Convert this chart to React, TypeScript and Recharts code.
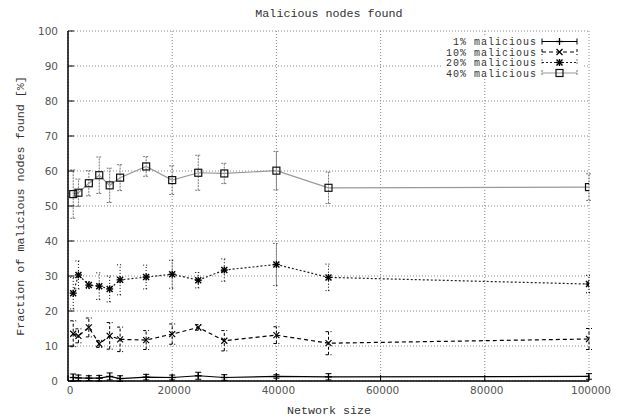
import React from 'react';
import { ComposedChart, Line, XAxis, YAxis, CartesianGrid, ErrorBar } from 'recharts';

const sizes = [1000, 2000, 4000, 6000, 8000, 10000, 15000, 20000, 25000, 30000, 40000, 50000, 100000];
const mal1 = [1.0, 0.9, 0.8, 0.8, 1.3, 0.7, 1.1, 1.0, 1.5, 1.0, 1.3, 1.2, 1.3];
const err1 = [1.0, 0.8, 0.7, 0.8, 1.0, 0.8, 0.8, 0.7, 1.0, 0.8, 0.5, 0.9, 0.8];
const mal10 = [13.5, 12.9, 15.3, 10.6, 12.9, 11.9, 11.7, 13.4, 15.3, 11.5, 13.1, 10.8, 12.0];
const err10 = [3.7, 2.0, 2.7, 1.0, 3.8, 3.5, 2.7, 2.9, 0.8, 2.9, 2.4, 3.3, 3.0];
const mal20 = [25.1, 30.3, 27.4, 27.1, 26.3, 28.9, 29.7, 30.5, 28.8, 31.7, 33.3, 29.6, 27.7];
const err20 = [4.5, 4.0, 1.0, 3.8, 3.7, 4.3, 3.4, 4.0, 2.2, 3.2, 6.0, 3.8, 2.5];
const mal40 = [53.4, 53.8, 56.5, 58.8, 55.9, 58.1, 61.3, 57.4, 59.5, 59.3, 60.1, 55.2, 55.4];
const err40 = [6.9, 3.9, 3.6, 5.2, 4.9, 3.7, 2.8, 4.1, 5.0, 2.9, 5.5, 4.5, 3.8];

const xTicks = [0, 20000, 40000, 60000, 80000, 100000];
const yTicks = [0, 10, 20, 30, 40, 50, 60, 70, 80, 90, 100];
const seriesNames = ['1% malicious', '10% malicious', '20% malicious', '40% malicious'];
const title = 'Malicious nodes found';
const xLabel = 'Network size';
const yLabel = 'Fraction of malicious nodes found [%]';

const data = sizes.map((s, i) => ({
  x: s,
  m1: mal1[i], e1: err1[i],
  m10: mal10[i], e10: err10[i],
  m20: mal20[i], e20: err20[i],
  m40: mal40[i], e40: err40[i],
}));

const MONO = '"Liberation Mono", "DejaVu Sans Mono", monospace';
const SANS = '"DejaVu Sans", sans-serif';

type MarkerKind = 'plus' | 'cross' | 'star' | 'square';

function Marker({ kind, cx, cy }: { kind: MarkerKind; cx: number; cy: number }) {
  const r = 3.5;
  if (kind === 'plus') {
    return (
      <g stroke="#000" strokeWidth={1.3}>
        <line x1={cx - r} y1={cy} x2={cx + r} y2={cy} />
        <line x1={cx} y1={cy - r} x2={cx} y2={cy + r} />
      </g>
    );
  }
  if (kind === 'cross') {
    return (
      <g stroke="#000" strokeWidth={1.2}>
        <line x1={cx - 3} y1={cy - 3} x2={cx + 3} y2={cy + 3} />
        <line x1={cx - 3} y1={cy + 3} x2={cx + 3} y2={cy - 3} />
      </g>
    );
  }
  if (kind === 'star') {
    return (
      <g stroke="#000" strokeWidth={1.4}>
        <line x1={cx - r} y1={cy} x2={cx + r} y2={cy} />
        <line x1={cx} y1={cy - r} x2={cx} y2={cy + r} />
        <line x1={cx - 3} y1={cy - 3} x2={cx + 3} y2={cy + 3} />
        <line x1={cx - 3} y1={cy + 3} x2={cx + 3} y2={cy - 3} />
      </g>
    );
  }
  return <rect x={cx - 3.5} y={cy - 3.5} width={7} height={7} fill="none" stroke="#111" strokeWidth={1.2} />;
}

const makeDot = (kind: MarkerKind) => (props: any) => {
  const { cx, cy, index } = props;
  if (cx == null || cy == null) return <g key={`d-${kind}-${index}`} />;
  return (
    <g key={`d-${kind}-${index}`}>
      <Marker kind={kind} cx={cx} cy={cy} />
    </g>
  );
};

const BottomTick = (props: any) => {
  const { x, y, payload } = props;
  return (
    <g>
      <line x1={x} y1={y} x2={x} y2={y - 6} stroke="#000" strokeWidth={1} />
      <text x={x + 2} y={y + 13} textAnchor="middle" fontFamily={SANS} fontSize={10.5} fill="#555">
        {payload.value}
      </text>
    </g>
  );
};

const TopTick = (props: any) => {
  const { x, y } = props;
  return <line x1={x} y1={y} x2={x} y2={y + 6} stroke="#000" strokeWidth={1} />;
};

const LeftTick = (props: any) => {
  const { x, y, payload } = props;
  return (
    <g>
      <line x1={x} y1={y} x2={x + 6} y2={y} stroke="#000" strokeWidth={1} />
      <text x={x - 10} y={y + 4} textAnchor="end" fontFamily={SANS} fontSize={10.5} fill="#555">
        {payload.value}
      </text>
    </g>
  );
};

const RightTick = (props: any) => {
  const { x, y } = props;
  return <line x1={x} y1={y} x2={x - 6} y2={y} stroke="#000" strokeWidth={1} />;
};

const lineStyles = [
  { key: 'm1', err: 'e1', kind: 'plus' as MarkerKind, stroke: '#000', dash: undefined as string | undefined, errStroke: '#000', errDash: undefined as string | undefined },
  { key: 'm10', err: 'e10', kind: 'cross' as MarkerKind, stroke: '#000', dash: '4 3', errStroke: '#000', errDash: '3 2' },
  { key: 'm20', err: 'e20', kind: 'star' as MarkerKind, stroke: '#222', dash: '2 2', errStroke: '#000', errDash: '1 2' },
  { key: 'm40', err: 'e40', kind: 'square' as MarkerKind, stroke: '#999', dash: undefined, errStroke: '#777', errDash: '2 1' },
];

function LegendOverlay() {
  const rows = [41.5, 52, 62.5, 73];
  const x1 = 542;
  const x2 = 577;
  const mid = (x1 + x2) / 2;
  return (
    <g>
      <rect x={443} y={36} width={140} height={43} fill="#fff" />
      {seriesNames.map((name, i) => {
        const st = lineStyles[i];
        const y = rows[i];
        return (
          <g key={name}>
            <text x={537} y={y + 3.5} textAnchor="end" fontFamily={MONO} fontSize={10} letterSpacing={1} fill="#333">
              {name}
            </text>
            <line x1={x1} y1={y} x2={x2} y2={y} stroke={st.stroke} strokeDasharray={st.dash} strokeWidth={1.2} />
            <line x1={x1} y1={y - 3} x2={x1} y2={y + 3} stroke={st.errStroke} strokeDasharray={st.errDash} />
            <line x1={x2} y1={y - 3} x2={x2} y2={y + 3} stroke={st.errStroke} strokeDasharray={st.errDash} />
            <Marker kind={st.kind} cx={mid} cy={y} />
          </g>
        );
      })}
    </g>
  );
}

export default function App() {
  return (
    <div style={{ position: 'absolute', left: 0, top: 0, width: 625, height: 419, background: '#fff' }}>
      <ComposedChart width={625} height={419} data={data} margin={{ top: 31, right: 36, bottom: 0, left: 0 }}>
        <CartesianGrid stroke="#888" strokeDasharray="1 2" />
        <XAxis
          dataKey="x"
          type="number"
          domain={[0, 100000]}
          ticks={xTicks}
          height={38}
          tickSize={0}
          tickMargin={0}
          tickLine={false}
          axisLine={{ stroke: '#000', strokeWidth: 1.5 }}
          tick={<BottomTick />}
          allowDataOverflow
        />
        <XAxis
          xAxisId="top"
          orientation="top"
          dataKey="x"
          type="number"
          domain={[0, 100000]}
          ticks={xTicks}
          height={0}
          tickSize={0}
          tickMargin={0}
          tickLine={false}
          axisLine={{ stroke: '#000', strokeWidth: 1.5 }}
          tick={<TopTick />}
          allowDataOverflow
        />
        <YAxis
          type="number"
          domain={[0, 100]}
          ticks={yTicks}
          width={68}
          tickSize={0}
          tickMargin={0}
          tickLine={false}
          axisLine={{ stroke: '#000', strokeWidth: 1.5 }}
          tick={<LeftTick />}
          allowDataOverflow
        />
        <YAxis
          yAxisId="right"
          orientation="right"
          type="number"
          domain={[0, 100]}
          ticks={yTicks}
          width={0}
          tickSize={0}
          tickMargin={0}
          tickLine={false}
          axisLine={{ stroke: '#000', strokeWidth: 1.5 }}
          tick={<RightTick />}
          allowDataOverflow
        />
        {lineStyles.map((st) => (
          <Line
            key={st.key}
            dataKey={st.key}
            type="linear"
            stroke={st.stroke}
            strokeWidth={1.2}
            strokeDasharray={st.dash}
            dot={makeDot(st.kind)}
            activeDot={false}
            isAnimationActive={false}
          >
            <ErrorBar
              dataKey={st.err}
              direction="y"
              width={3}
              stroke={st.errStroke}
              strokeWidth={1}
              strokeDasharray={st.errDash}
              isAnimationActive={false}
            />
          </Line>
        ))}
      </ComposedChart>
      <svg
        width={625}
        height={419}
        style={{ position: 'absolute', left: 0, top: 0, pointerEvents: 'none' }}
      >
        <text x={329} y={17} textAnchor="middle" fontFamily={MONO} fontSize={11.7} fill="#333">
          {title}
        </text>
        <text x={329} y={414} textAnchor="middle" fontFamily={MONO} fontSize={11.7} fill="#333">
          {xLabel}
        </text>
        <text
          x={0}
          y={0}
          transform="translate(24, 206) rotate(-90)"
          textAnchor="middle"
          fontFamily={MONO}
          fontSize={11.7}
          fill="#333"
        >
          {yLabel}
        </text>
        <LegendOverlay />
      </svg>
    </div>
  );
}
